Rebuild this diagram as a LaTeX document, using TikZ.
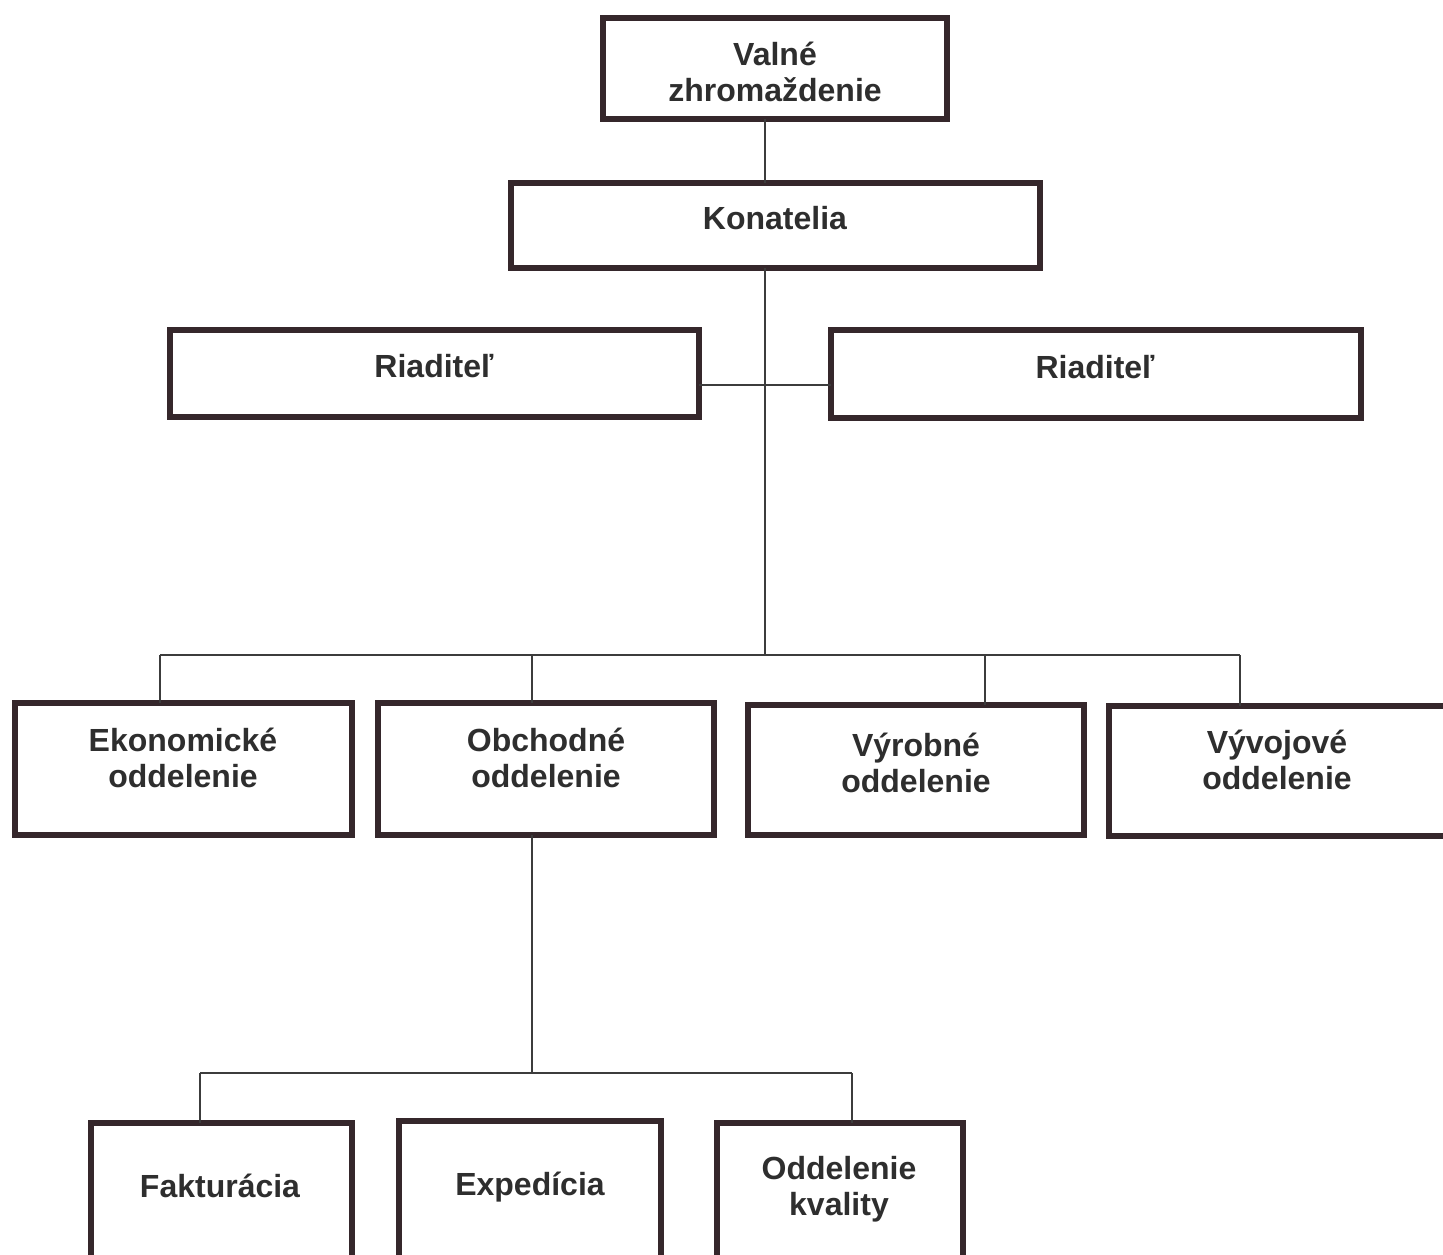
\documentclass[tikz,border=0pt]{standalone}
\usepackage{fontspec}
\setmainfont{Liberation Sans}
\begin{document}
\begin{tikzpicture}[x=0.5pt,y=-0.5pt,
  orgbox/.style={draw=boxcol, line width=3.4pt, fill=white, inner sep=0pt, outer sep=0pt},
  lbl/.style={text=txtcol, font=\fontsize{16}{18}\selectfont\bfseries, align=center, inner sep=0pt},
  conn/.style={draw=linecol, line width=0.9pt}]
\definecolor{boxcol}{HTML}{35272B}
\definecolor{txtcol}{HTML}{2E2E2E}
\definecolor{linecol}{HTML}{3C3C3C}
\useasboundingbox (0,0) rectangle (1443,1254);
\clip (0,0) rectangle (1443,1254);
\fill[white] (0,0) rectangle (1443,1254);
% boxes
\node[orgbox, minimum width=172pt, minimum height=50.5pt] (vz) at (775,68.5) {};
\node[orgbox, minimum width=264.5pt, minimum height=42.5pt] (kon) at (775.5,225.5) {};
\node[orgbox, minimum width=264.5pt, minimum height=43.5pt] (r1) at (434.5,373.5) {};
\node[orgbox, minimum width=265pt, minimum height=44pt] (r2) at (1096,374) {};
\node[orgbox, minimum width=168.5pt, minimum height=66pt] (ek) at (183.5,769) {};
\node[orgbox, minimum width=168pt, minimum height=66pt] (ob) at (546,769) {};
\node[orgbox, minimum width=168pt, minimum height=65pt] (vy) at (916,770) {};
\node[orgbox, minimum width=169pt, minimum height=65pt] (vv) at (1278,771) {};
\node[orgbox, minimum width=130.5pt, minimum height=87pt] (fa) at (221.5,1210) {};
\node[orgbox, minimum width=131pt, minimum height=88pt] (ex) at (530,1209) {};
\node[orgbox, minimum width=123pt, minimum height=87pt] (ok) at (840,1210) {};
% texts
\node[lbl] (tvz) at (775,72) {Valné\\zhromaždenie};
\node[lbl, anchor=base] (tkon) at (775,229) {Konatelia};
\node[lbl, anchor=base] (tr1) at (434,377) {Riaditeľ};
\node[lbl, anchor=base] (tr2) at (1095,378) {Riaditeľ};
\node[lbl] (tek) at (183,758) {Ekonomické\\oddelenie};
\node[lbl] (tob) at (546,758) {Obchodné\\oddelenie};
\node[lbl] (tvy) at (916,763) {Výrobné\\oddelenie};
\node[lbl] (tvv) at (1277,760) {Vývojové\\oddelenie};
\node[lbl, anchor=base] (tfa) at (220,1197) {Fakturácia};
\node[lbl, anchor=base] (tex) at (530,1195) {Expedícia};
\node[lbl] (tok) at (839,1189) {Oddelenie\\kvality};
% junction coordinates
\coordinate (trunk) at (765,655);
\coordinate (rj) at (765,385);
\coordinate (d1) at (160,655);
\coordinate (d2) at (532,655);
\coordinate (d3) at (985,655);
\coordinate (d4) at (1240,655);
\coordinate (sub) at (532,1073);
\coordinate (s1) at (200,1073);
\coordinate (s2) at (852,1073);
% connectors
\draw[conn] (vz.south -| trunk) -- (kon.north -| trunk);
\draw[conn] (kon.south -| trunk) -- (trunk);
\draw[conn] (r1.east |- rj) -- (r2.west |- rj);
\draw[conn] (d1) -- (d4);
\draw[conn] (d1) -- (d1 |- ek.north);
\draw[conn] (d2) -- (d2 |- ob.north);
\draw[conn] (d3) -- (d3 |- vy.north);
\draw[conn] (d4) -- (d4 |- vv.north);
\draw[conn] (ob.south -| sub) -- (sub);
\draw[conn] (s1) -- (s2);
\draw[conn] (s1) -- (s1 |- fa.north);
\draw[conn] (s2) -- (s2 |- ok.north);
\end{tikzpicture}
\end{document}
